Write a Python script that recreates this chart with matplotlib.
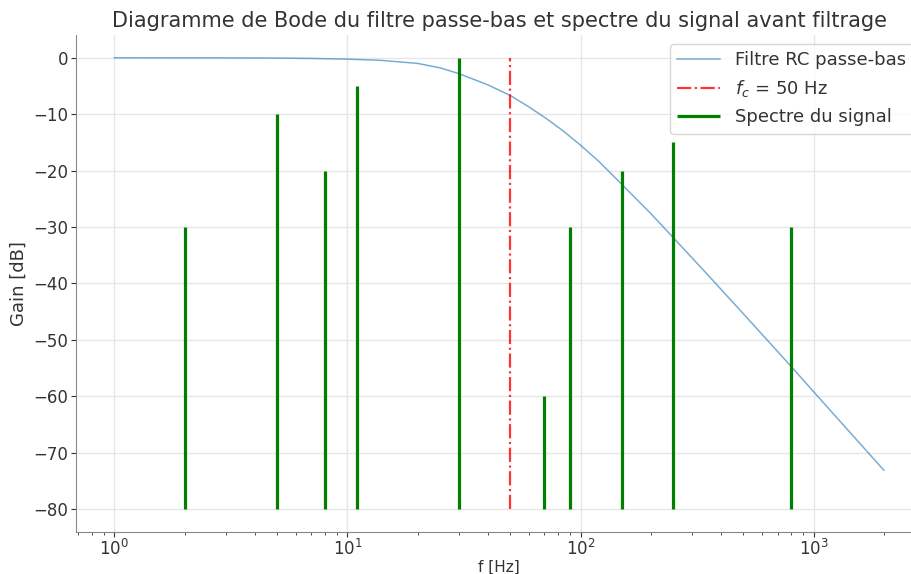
import matplotlib
matplotlib.use("Agg")
import matplotlib.pyplot as plt

# courbe du filtre
freq_filtre = [1, 3, 5, 7, 10, 13.8, 20, 25, 30, 40, 50, 60, 72, 85, 100, 120, 150, 200, 250, 350, 500, 800, 1000, 2000]
gain_filtre = [0, -0.02, -0.05, -0.12, -0.25, -0.45, -1.0, -1.8, -2.8, -4.8, -6.7, -8.7, -10.9, -13.1, -15.5, -18.4, -22.4, -27.6, -31.9, -38.4, -45.4, -54.7, -59.2, -73.1]

fc = 50

# spectre du signal
freq_spectre = [2, 5, 8, 11, 30, 70, 90, 150, 250, 800]
gain_spectre = [-30, -10, -20, -5, 0, -60, -30, -20, -15, -30]
bas_spectre = -80

plt.rcParams['font.family'] = ['DejaVu Sans']
plt.rcParams['text.color'] = '#333333'
plt.rcParams['axes.labelcolor'] = '#333333'
plt.rcParams['xtick.color'] = '#333333'
plt.rcParams['ytick.color'] = '#333333'

fig = plt.figure(figsize=(9.11, 5.74), dpi=100)
ax = fig.add_axes([0.0834, 0.0737, 0.929, 0.865])

ax.semilogx(freq_filtre, gain_filtre, color='tab:blue', alpha=0.6, lw=1.1, label='Filtre RC passe-bas')
ax.vlines(fc, bas_spectre, 0, color='red', ls='-.', lw=1.6, alpha=0.8, label='$f_c$ = 50 Hz')
ax.vlines(freq_spectre, bas_spectre, gain_spectre, color='green', lw=2.3, label='Spectre du signal')

ax.set_xlim(0.684, 2925)
ax.set_ylim(-84, 4)

ax.set_title('Diagramme de Bode du filtre passe-bas et spectre du signal avant filtrage', fontsize=15)
ax.set_xlabel('f [Hz]', fontsize=11, labelpad=0)
ax.set_ylabel('Gain [dB]', fontsize=13)
ax.tick_params(labelsize=12, pad=2)
ax.set_yticks([0, -10, -20, -30, -40, -50, -60, -70, -80])

ax.grid(True, color='#e6e6e6', lw=1)
ax.set_axisbelow(True)
ax.spines['top'].set_visible(False)
ax.spines['right'].set_visible(False)
for s in ['left', 'bottom']:
    ax.spines[s].set_color('#888888')

ax.legend(loc='upper right', fontsize=13, handlelength=2.4)

fig.savefig('out.png', dpi=100)
